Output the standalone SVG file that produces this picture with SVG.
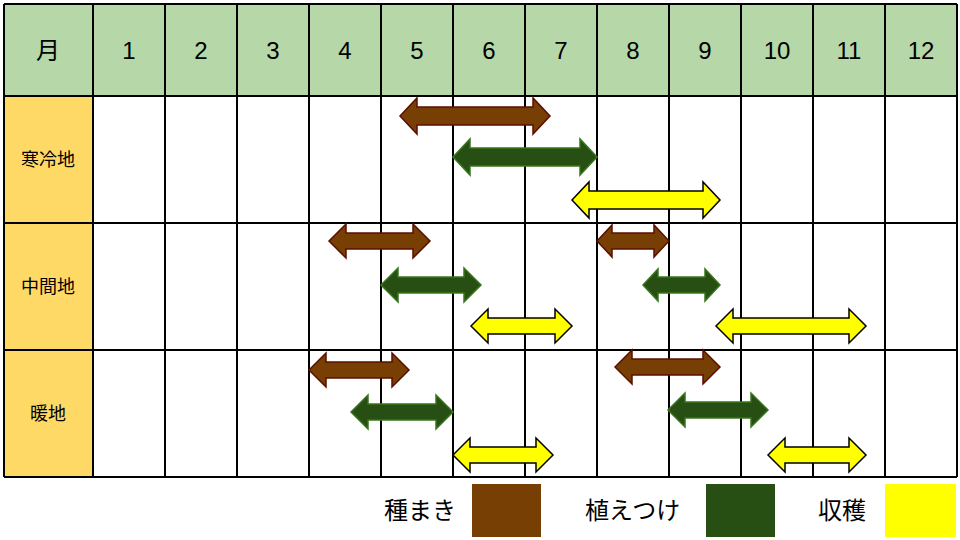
<svg xmlns="http://www.w3.org/2000/svg" width="960" height="540" viewBox="0 0 960 540">
<style>
text{font-family:"Liberation Sans","Noto Sans CJK JP",sans-serif;fill:#000;text-anchor:middle}
.h{font-size:24px}.s{font-size:18px}.l{font-size:24px;text-anchor:start}
.g{stroke:#000;stroke-width:2}
.b{fill:#783F04;stroke:#5b0f00;stroke-width:1.5}
.gr{fill:#274E13;stroke:#38761d;stroke-width:1.5}
.y{fill:#FFFF00;stroke:#000;stroke-width:1.5}
</style>
<rect width="960" height="540" fill="#fff"/>
<g id="grid">
<rect x="4" y="4" width="953" height="92" fill="#B6D7A8"/>
<rect x="4" y="96" width="89" height="381" fill="#FFD966"/>
<g class="g">
<line x1="4" y1="4" x2="957" y2="4"/><line x1="4" y1="96" x2="957" y2="96"/><line x1="4" y1="223" x2="957" y2="223"/><line x1="4" y1="350" x2="957" y2="350"/><line x1="4" y1="477" x2="957" y2="477"/>
<line x1="4" y1="4" x2="4" y2="477"/><line x1="93" y1="4" x2="93" y2="477"/><line x1="165" y1="4" x2="165" y2="477"/><line x1="237" y1="4" x2="237" y2="477"/><line x1="309" y1="4" x2="309" y2="477"/><line x1="381" y1="4" x2="381" y2="477"/><line x1="453" y1="4" x2="453" y2="477"/><line x1="525" y1="4" x2="525" y2="477"/><line x1="597" y1="4" x2="597" y2="477"/><line x1="669" y1="4" x2="669" y2="477"/><line x1="741" y1="4" x2="741" y2="477"/><line x1="813" y1="4" x2="813" y2="477"/><line x1="885" y1="4" x2="885" y2="477"/><line x1="957" y1="4" x2="957" y2="477"/>
</g>
<text class="h" x="48" y="59">月</text>
<text class="h" x="129" y="59">1</text><text class="h" x="201" y="59">2</text><text class="h" x="273" y="59">3</text><text class="h" x="345" y="59">4</text><text class="h" x="417" y="59">5</text><text class="h" x="489" y="59">6</text><text class="h" x="561" y="59">7</text><text class="h" x="633" y="59">8</text><text class="h" x="705" y="59">9</text><text class="h" x="777" y="59">10</text><text class="h" x="849" y="59">11</text><text class="h" x="921" y="59">12</text>
<text class="s" x="48" y="166">寒冷地</text>
<text class="s" x="48" y="293">中間地</text>
<text class="s" x="48" y="420">暖地</text>
</g>
<g id="arrows">
<path class="b" d="M400,116 L417,98 L417,107 L533,107 L533,98 L550,116 L533,134 L533,125 L417,125 L417,134 Z"/>
<path class="gr" d="M453,157 L470,139 L470,148 L580,148 L580,139 L597,157 L580,175 L580,166 L470,166 L470,175 Z"/>
<path class="y" d="M572,200 L589,182 L589,191 L703,191 L703,182 L720,200 L703,218 L703,209 L589,209 L589,218 Z"/>
<path class="b" d="M329,241 L346,224 L346,233 L413,233 L413,224 L430,241 L413,258 L413,249 L346,249 L346,258 Z"/>
<path class="gr" d="M381,285 L398,268 L398,277 L464,277 L464,268 L481,285 L464,302 L464,293 L398,293 L398,302 Z"/>
<path class="y" d="M471,326 L488,309 L488,318 L555,318 L555,309 L572,326 L555,343 L555,334 L488,334 L488,343 Z"/>
<path class="b" d="M597,241 L612,225 L612,233 L654,233 L654,225 L669,241 L654,257 L654,249 L612,249 L612,257 Z"/>
<path class="gr" d="M643,285 L658,269 L658,277 L705,277 L705,269 L720,285 L705,301 L705,293 L658,293 L658,301 Z"/>
<path class="y" d="M716,326 L733,309 L733,318 L849,318 L849,309 L866,326 L849,343 L849,334 L733,334 L733,343 Z"/>
<path class="b" d="M309,370 L326,353 L326,362 L392,362 L392,353 L409,370 L392,387 L392,378 L326,378 L326,387 Z"/>
<path class="gr" d="M351,412 L368,395 L368,404 L436,404 L436,395 L453,412 L436,429 L436,420 L368,420 L368,429 Z"/>
<path class="y" d="M453,455 L470,438 L470,447 L536,447 L536,438 L553,455 L536,472 L536,463 L470,463 L470,472 Z"/>
<path class="b" d="M615,367 L632,350 L632,359 L703,359 L703,350 L720,367 L703,384 L703,375 L632,375 L632,384 Z"/>
<path class="gr" d="M668,410 L685,393 L685,402 L751,402 L751,393 L768,410 L751,427 L751,418 L685,418 L685,427 Z"/>
<path class="y" d="M768,455 L785,438 L785,447 L849,447 L849,438 L866,455 L849,472 L849,463 L785,463 L785,472 Z"/>
</g>
<g id="legend">
<text class="l" x="384" y="519">種まき</text>
<rect x="472" y="484" width="69" height="53" fill="#783F04"/>
<text class="l" x="585" y="519">植えつけ</text>
<rect x="706" y="484" width="69" height="53" fill="#274E13"/>
<text class="l" x="818" y="519">収穫</text>
<rect x="885" y="484" width="71" height="53" fill="#FFFF00"/>
</g>
</svg>
